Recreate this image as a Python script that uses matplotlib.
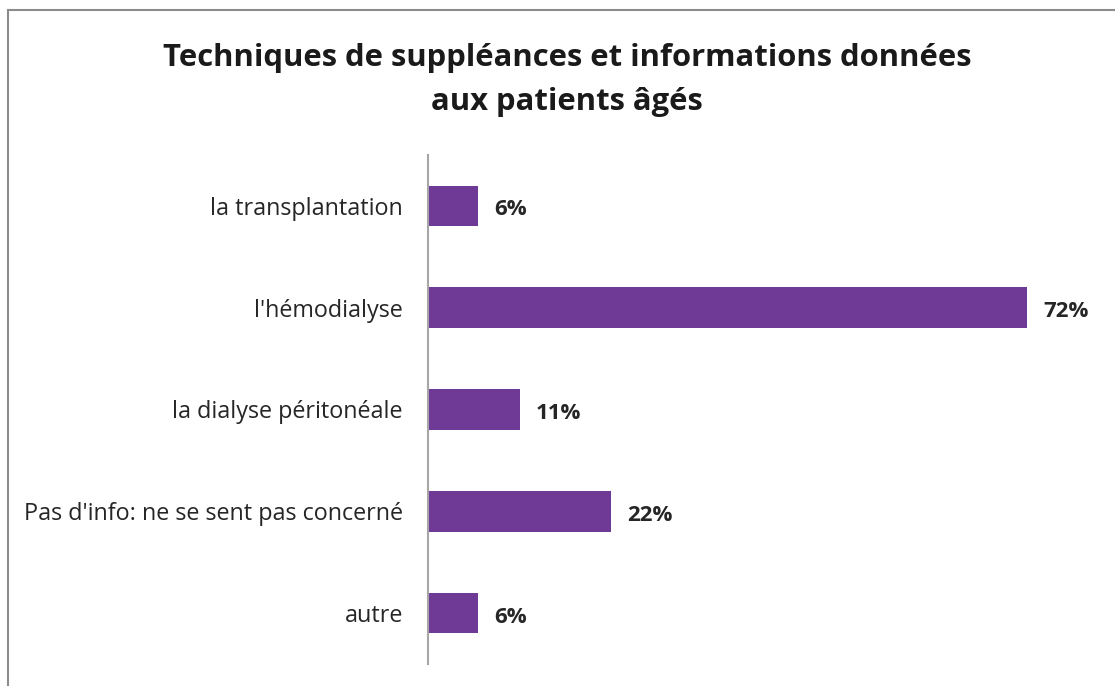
import matplotlib
matplotlib.use("Agg")
import matplotlib.pyplot as plt
from matplotlib.lines import Line2D

categories = ["la transplantation", "l'hémodialyse", "la dialyse péritonéale",
              "Pas d'info: ne se sent pas concerné", "autre"]
values = [6, 72, 11, 22, 6]
value_labels = ["6%", "72%", "11%", "22%", "6%"]

W, H = 1115, 686
fig = plt.figure(figsize=(W/100, H/100), dpi=100)
plt.rcParams['font.family'] = ['Open Sans', 'DejaVu Sans']

# border lines (top and left)
fig.add_artist(Line2D([8/W, 1], [1-10/H, 1-10/H], color='#8c8c8c', lw=1.5, transform=fig.transFigure))
fig.add_artist(Line2D([8/W, 8/W], [1-10/H, 0], color='#8c8c8c', lw=1.5, transform=fig.transFigure))

left, right = 428, 1060
top, bottom = 155, 664
ax = fig.add_axes([left/W, 1-bottom/H, (right-left)/W, (bottom-top)/H])
px_per = (1027-428)/72
ax.set_xlim(0, (right-left)/px_per)
ax.set_ylim(len(categories)-0.5, -0.5)

ypos = list(range(len(categories)))
ax.barh(ypos, values, height=0.4, color='#6F3996')
for y, v, lab in zip(ypos, values, value_labels):
    ax.text(v + 16/px_per, y + 0.04, lab, va='center', ha='left', fontsize=16,
            fontweight='bold', color='#262626')

ax.set_yticks(ypos)
ax.set_yticklabels(categories, fontsize=16.8, color='#262626')
ax.tick_params(axis='y', length=0, pad=18)
ax.set_xticks([])
for s in ['top', 'right', 'bottom']:
    ax.spines[s].set_visible(False)
ax.spines['left'].set_color('#a6a6a6')
ax.spines['left'].set_linewidth(1.5)

fig.text(567/W, 1-80/H, "Techniques de suppléances et informations données\naux patients âgés",
         ha='center', va='center', fontsize=22.3, fontweight='bold', color='#1a1a1a',
         linespacing=1.62)

fig.savefig("out.png", dpi=100)
